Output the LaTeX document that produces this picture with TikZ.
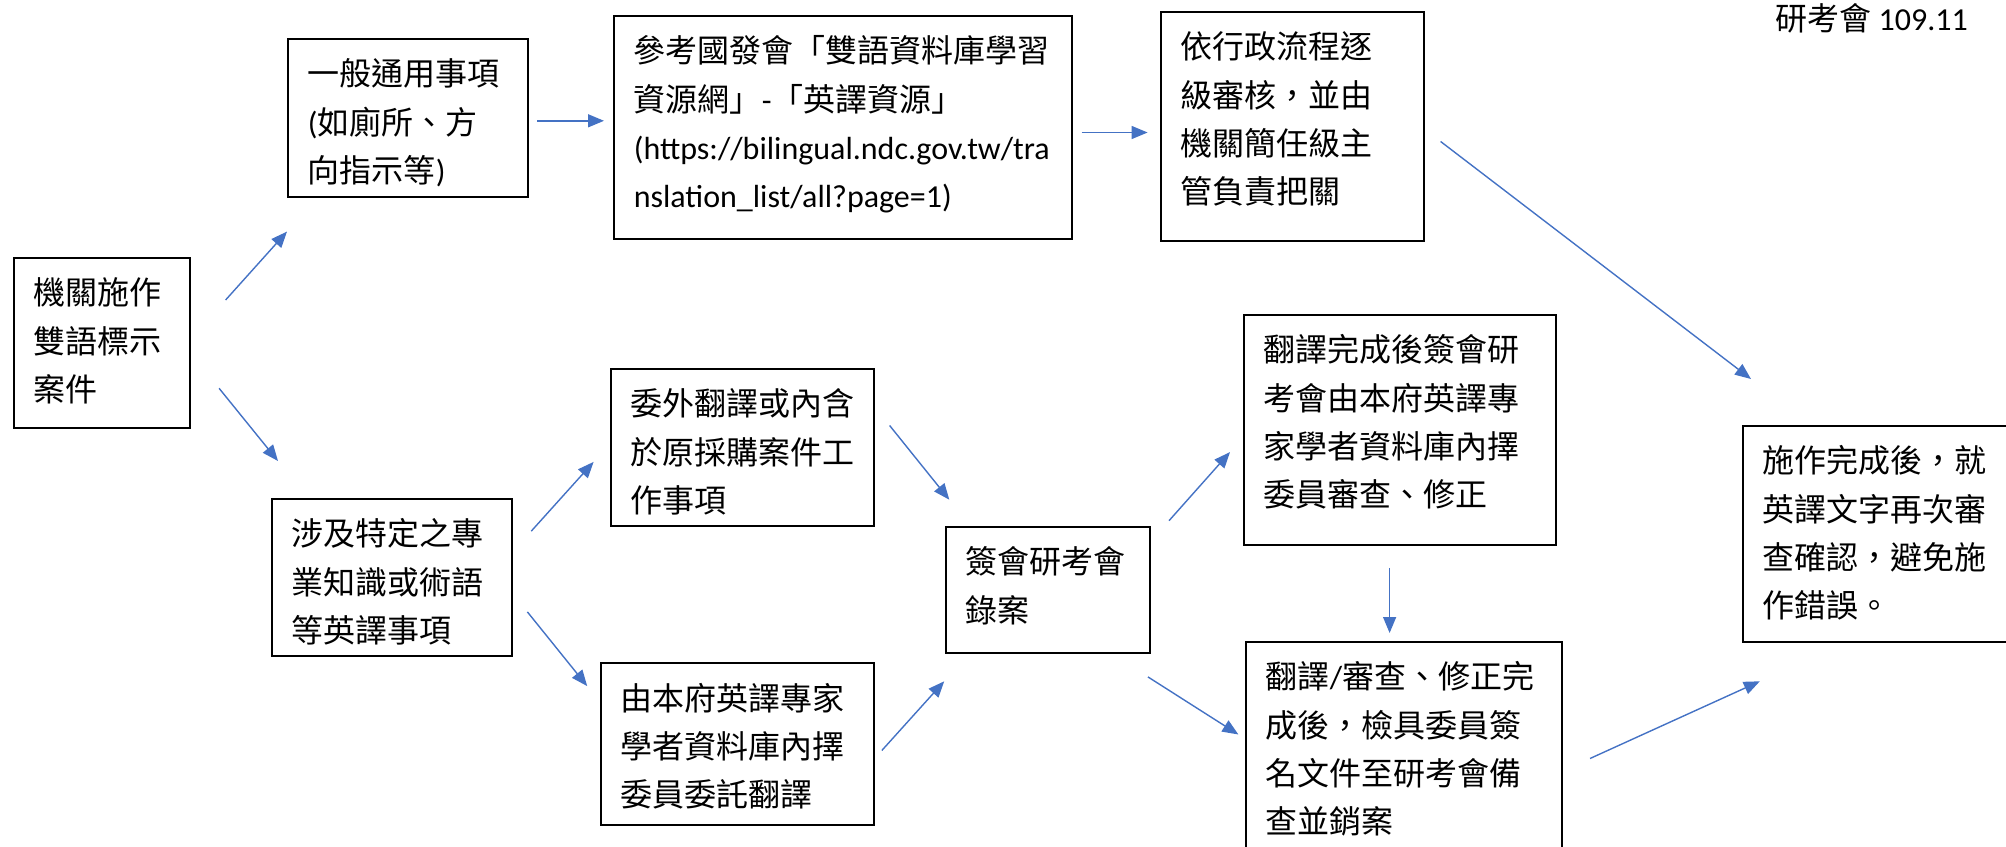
\documentclass[tikz,border=0pt]{standalone}
\usepackage{fontspec}
\setmainfont{Noto Sans CJK TC}
\newfontfamily\lat{Carlito}
\usetikzlibrary{positioning, arrows.meta}
\definecolor{flowblue}{RGB}{68,114,196}
\newcommand{\cell}[3]{\parbox[t][\dimexpr#2-20pt\relax][t]{\dimexpr#1-20pt\relax}{\raggedright #3}}

\begin{document}
\begin{tikzpicture}[x=0.5pt, y=-0.5pt, font=\fontsize{16pt}{24.15pt}\selectfont,
  stage/.style={draw, line width=0.8pt, anchor=north west, inner sep=10pt},
  flow/.style={color=flowblue, line width=0.7pt, -{Triangle[length=8pt,width=6.5pt]}}]
  \useasboundingbox (0,0) rectangle (2006,846);
  % boxes, top left corners in pixels
  \node[stage] (case) at (13,257) {\cell{88pt}{85pt}{機關施作\\雙語標示\\案件}};
  \node[stage] (general) at (287,38) {\cell{120pt}{79pt}{一般通用事項\\{\lat (}如廁所、方\\向指示等{\lat )}}};
  \node[stage] (ndc) at (613,15) {\cell{229pt}{111.5pt}{參考國發會「雙語資料庫學習\\資源網」{\lat -}「英譯資源」\\{\lat (https://bilingual.ndc.gov.tw/tra}\\{\lat nslation\_list/all?page=1)}}};
  \node[stage] (review) at (1160,11) {\cell{131.5pt}{114.5pt}{依行政流程逐\\級審核，並由\\機關簡任級主\\管負責把關}};
  \node[stage] (special) at (271,498) {\cell{120pt}{78.5pt}{涉及特定之專\\業知識或術語\\等英譯事項}};
  \node[stage] (outsource) at (610,368) {\cell{131.5pt}{78.5pt}{委外翻譯或內含\\於原採購案件工\\作事項}};
  \node[stage] (expert) at (600,662) {\cell{136.5pt}{81pt}{由本府英譯專家\\學者資料庫內擇\\委員委託翻譯}};
  \node[stage] (file) at (945,526) {\cell{102pt}{63pt}{簽會研考會\\錄案}};
  \node[stage] (check) at (1243,314) {\cell{156pt}{115pt}{翻譯完成後簽會研\\考會由本府英譯專\\家學者資料庫內擇\\委員審查、修正}};
  \node[stage] (close) at (1245,641) {\cell{158pt}{115pt}{翻譯{\lat /}審查、修正完\\成後，檢具委員簽\\名文件至研考會備\\查並銷案}};
  \node[stage] (recheck) at (1742,425) {\cell{135pt}{108pt}{施作完成後，就\\英譯文字再次審\\查確認，避免施\\作錯誤。}};
  \node[anchor=base west, inner sep=0pt] (date) at (1775,30) {研考會 {\lat 109.11}};
  % upper branch
  \path[flow]
    ([xshift=17.5pt,yshift=-21.5pt]case.north east) edge ([yshift=-17pt]general.south west)
    ([xshift=4.25pt,yshift=-1.5pt]general.east) edge ([xshift=-4.5pt,yshift=3.25pt]ndc.west)
    ([xshift=4.5pt,yshift=-2.6pt]ndc.east) edge ([xshift=-6.2pt,yshift=-3.1pt]review.west)
    ([xshift=8pt,yshift=-7.6pt]review.east) edge ([xshift=4.5pt,yshift=23pt]recheck.north west);
  % lower branch
  \path[flow]
    ([xshift=14.25pt,yshift=20.15pt]case.south east) edge ([xshift=3.5pt,yshift=18.5pt]special.north west)
    ([xshift=9.35pt,yshift=23.1pt]special.east) edge ([xshift=-8.2pt,yshift=32.35pt]outsource.south west)
    ([xshift=7.4pt,yshift=22.35pt]special.south east) edge ([xshift=-6.4pt,yshift=28.85pt]expert.west)
    ([xshift=7.5pt,yshift=10.9pt]outsource.east) edge ([xshift=2.15pt,yshift=13.15pt]file.north west)
    ([xshift=3.6pt,yshift=-3.35pt]expert.east) edge ([xshift=-0.4pt,yshift=-13.85pt]file.south west)
    ([xshift=9.2pt,yshift=2.65pt]file.north east) edge ([xshift=-6.5pt,yshift=-11.15pt]check.west)
    ([xshift=-1.35pt,yshift=-11.65pt]file.south east) edge ([xshift=-3.3pt,yshift=11.15pt]close.west)
    ([xshift=-5.1pt,yshift=-11.15pt]check.south) edge ([xshift=-7.1pt,yshift=4pt]close.north)
    ([xshift=13.7pt,yshift=-0.85pt]close.east) edge ([xshift=8.9pt,yshift=-19.35pt]recheck.south west);
\end{tikzpicture}
\end{document}
